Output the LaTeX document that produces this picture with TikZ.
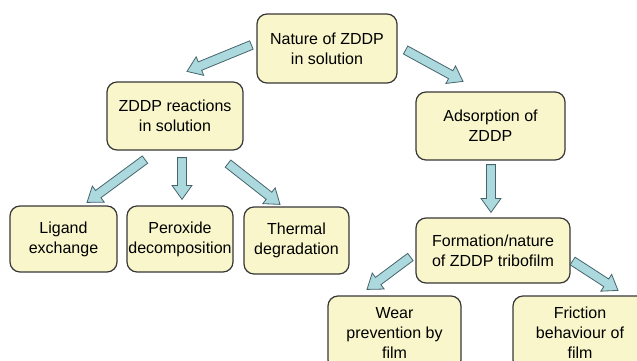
\documentclass[tikz,border=0pt]{standalone}
\usepackage{fontspec}
\setmainfont{Liberation Sans}
\usetikzlibrary{calc}
\definecolor{boxfill}{RGB}{248,246,202}
\definecolor{boxline}{RGB}{55,55,55}
\definecolor{arrfill}{RGB}{172,217,222}
\definecolor{arrline}{RGB}{70,100,108}
\newcommand{\asw}{3.4pt}
\newcommand{\ahw}{7.5pt}
\newcommand{\ahl}{10.5pt}
\newcommand{\barrow}[2]{%
  \coordinate (baq) at ($(#2)!\ahl!(#1)$);
  \draw[blockarrow] ($(#1)!\asw!90:(#2)$) -- ($(baq)!\asw!-90:(#1)$) -- ($(baq)!\ahw!-90:(#1)$) -- (#2) -- ($(baq)!\ahw!90:(#1)$) -- ($(baq)!\asw!90:(#1)$) -- ($(#1)!\asw!-90:(#2)$) -- cycle;}
\begin{document}
\begin{tikzpicture}[x=0.75pt,y=-0.75pt,
  box/.style={draw=boxline, fill=boxfill, line width=0.9pt, rounded corners=7.5pt,
    align=center, inner sep=0pt, font=\fontsize{12}{15}\selectfont},
  blockarrow/.style={draw=arrline, fill=arrfill, line width=0.6pt, line join=miter}]
\useasboundingbox (0,0) rectangle (637,361);
\node[box, minimum width=105pt, minimum height=51.75pt] (nature) at (327,48.5) {Nature of ZDDP\\in solution};
\node[box, minimum width=102pt, minimum height=51pt] (react) at (175,116) {ZDDP reactions\\in solution};
\node[box, minimum width=111.75pt, minimum height=51pt] (adsorp) at (490.5,126) {Adsorption of\\ZDDP};
\node[box, minimum width=80.25pt, minimum height=49.5pt] (ligand) at (63.5,239) {Ligand\\exchange};
\node[box, minimum width=79.5pt, minimum height=49.5pt] (perox) at (180,239) {Peroxide\\decomposition};
\node[box, minimum width=78.75pt, minimum height=50.25pt] (thermal) at (296.5,240.5) {Thermal\\degradation};
\node[box, minimum width=115.5pt, minimum height=48.75pt] (form) at (493,250.5) {Formation/nature\\of ZDDP tribofilm};
\node[box, minimum width=99.75pt, minimum height=55.5pt] (wear) at (394.5,333) {Wear\\prevention by\\film};
\node[box, minimum width=100.5pt, minimum height=55.5pt] (fric) at (580,333) {Friction\\behaviour of\\film};
\coordinate (a1s) at ($(nature.west)+(-5,-3.5)$);
\coordinate (a1e) at ($(react.north)+(12,-10)$);
\coordinate (a2s) at ($(nature.east)+(8,1.5)$);
\coordinate (a2e) at ($(adsorp.north)+(-27.5,-10)$);
\coordinate (a3s) at ($(react.south)+(-30,9)$);
\coordinate (a3e) at ($(ligand.north)+(23.5,-3)$);
\coordinate (a4s) at ($(react.south)+(7,7)$);
\coordinate (a4e) at ($(perox.north)+(2,-6)$);
\coordinate (a5s) at ($(react.south)+(53,13)$);
\coordinate (a5e) at ($(thermal.north)+(-16.5,-2)$);
\coordinate (a6s) at ($(adsorp.south)+(0.5,4)$);
\coordinate (a6e) at ($(form.north)+(-2,-5)$);
\coordinate (a7s) at ($(form.west)+(-5,6.5)$);
\coordinate (a7e) at ($(wear.north)+(-27.5,-6)$);
\coordinate (a8s) at ($(form.east)+(2,10.5)$);
\coordinate (a8e) at ($(fric.north)+(38,-5)$);
\barrow{a1s}{a1e}
\barrow{a2s}{a2e}
\barrow{a3s}{a3e}
\barrow{a4s}{a4e}
\barrow{a5s}{a5e}
\barrow{a6s}{a6e}
\barrow{a7s}{a7e}
\barrow{a8s}{a8e}
\end{tikzpicture}
\end{document}
